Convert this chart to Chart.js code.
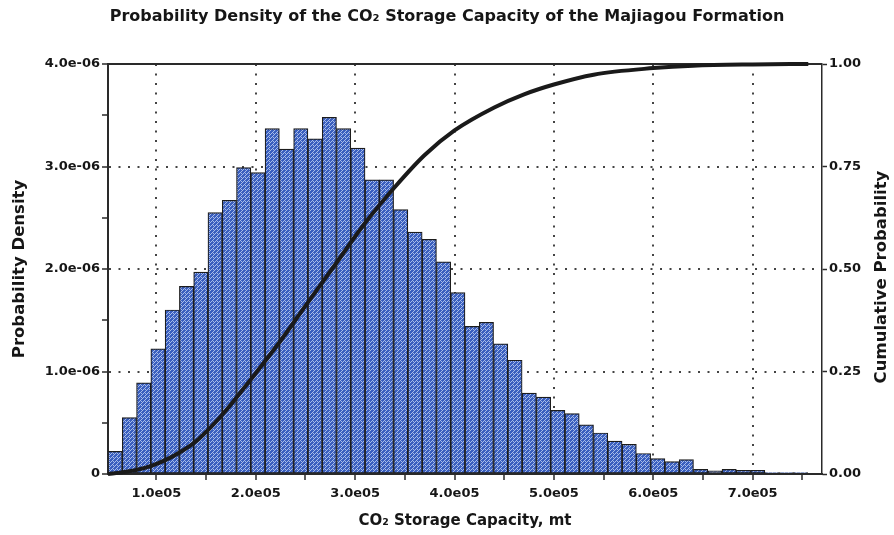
<!DOCTYPE html>
<html>
<head>
<meta charset="utf-8">
<script src="https://cdn.jsdelivr.net/npm/chart.js"></script>
<style>
  html, body { margin: 0; padding: 0; background: #fff; }
  #wrap { width: 894px; height: 535px; position: relative; }
</style>
</head>
<body>
<div id="wrap"><canvas id="chart"></canvas></div>
<script>
// histogram bins (bin centres, mt) and density values
const binCenters = [
  58485, 72855, 87225, 101595, 115965, 130335, 144705, 159075, 173445, 187815,
  202185, 216555, 230925, 245295, 259665, 274035, 288405, 302775, 317145, 331515,
  345885, 360255, 374625, 388995, 403365, 417735, 432105, 446475, 460845, 475215,
  489585, 503955, 518325, 532695, 547065, 561435, 575805, 590175, 604545, 618915,
  633285, 647655, 662025, 676395, 690765, 705135, 719505, 733875, 748245, 762615
];
const density = [
  0.22e-6, 0.55e-6, 0.89e-6, 1.22e-6, 1.60e-6, 1.83e-6, 1.97e-6, 2.55e-6, 2.67e-6, 2.99e-6,
  2.94e-6, 3.37e-6, 3.17e-6, 3.37e-6, 3.27e-6, 3.48e-6, 3.37e-6, 3.18e-6, 2.87e-6, 2.87e-6,
  2.58e-6, 2.36e-6, 2.29e-6, 2.07e-6, 1.77e-6, 1.44e-6, 1.48e-6, 1.27e-6, 1.11e-6, 0.79e-6,
  0.75e-6, 0.62e-6, 0.59e-6, 0.48e-6, 0.40e-6, 0.32e-6, 0.29e-6, 0.20e-6, 0.15e-6, 0.12e-6,
  0.14e-6, 0.045e-6, 0.03e-6, 0.045e-6, 0.035e-6, 0.035e-6, 0.015e-6, 0.015e-6, 0.015e-6, 0
];

// cumulative curve
const cdfX = [51300, 65000, 80000, 95000, 110000, 125000, 140000, 155000, 170000, 185000,
  200000, 225000, 250000, 280000, 310000, 340000, 370000, 400000, 440000, 470000,
  500000, 540000, 600000, 640000, 700000, 756000];
const cdfY = [0, 0.004, 0.010, 0.020, 0.035, 0.055, 0.080, 0.115, 0.155, 0.200,
  0.246, 0.325, 0.410, 0.511, 0.612, 0.700, 0.778, 0.838, 0.894, 0.926,
  0.950, 0.974, 0.990, 0.996, 0.999, 1.000];

// axes
const xMin = 51300, xMax = 769800;
const xTicks = [100000, 150000, 200000, 250000, 300000, 350000, 400000,
  450000, 500000, 550000, 600000, 650000, 700000, 750000];
const xLabels = ['1.0e05', '', '2.0e05', '', '3.0e05', '', '4.0e05',
  '', '5.0e05', '', '6.0e05', '', '7.0e05', ''];
const yTicks = [0, 0.5e-6, 1e-6, 1.5e-6, 2e-6, 2.5e-6, 3e-6, 3.5e-6, 4e-6];
const yLabels = ['0', '', '1.0e-06', '', '2.0e-06', '', '3.0e-06', '', '4.0e-06'];
const y1Ticks = [0, 0.25, 0.5, 0.75, 1];
const y1Labels = ['0.00', '0.25', '0.50', '0.75', '1.00'];

const titleText = 'Probability Density of the CO\u2082 Storage Capacity of the Majiagou Formation';
const xTitle = 'CO\u2082 Storage Capacity, mt';
const yTitle = 'Probability Density';
const y1Title = 'Cumulative Probability';

const FONT = '"DejaVu Sans", "Liberation Sans", Arial, sans-serif';
const INK = '#161616';

// blue cross-hatch fill like the original
function hatch() {
  const c = document.createElement('canvas');
  c.width = 4; c.height = 4;
  const g = c.getContext('2d');
  g.fillStyle = '#3a5fbf';
  g.fillRect(0, 0, 4, 4);
  g.fillStyle = '#a8bce9';
  [[0, 0], [1, 1], [3, 1], [2, 2], [1, 3]].forEach(p => g.fillRect(p[0], p[1], 1, 1));
  return g.createPattern(c, 'repeat');
}

const setTicks = values => scale => { scale.ticks = values.map(v => ({ value: v })); };
const isLabelled = labels => c => labels[c.index] !== '';

const frame = {
  id: 'frame',
  beforeDatasetsDraw(chart) {
    const { ctx, chartArea: a } = chart;
    ctx.save();
    ctx.strokeStyle = '#2a2a2a';
    ctx.lineWidth = 2;
    ctx.beginPath();
    ctx.moveTo(a.left - 1, a.top);
    ctx.lineTo(a.right, a.top);
    ctx.stroke();
    ctx.restore();
  },
  afterDraw(chart) {
    const { ctx, chartArea: a } = chart;
    ctx.save();
    ctx.translate(882, (a.top + a.bottom) / 2 + 8);
    ctx.rotate(-Math.PI / 2);
    ctx.font = 'bold 16.5px ' + FONT;
    ctx.fillStyle = INK;
    ctx.textAlign = 'center';
    ctx.textBaseline = 'middle';
    ctx.fillText(y1Title, 0, 0);
    ctx.restore();
  }
};

new Chart(document.getElementById('chart'), {
  type: 'bar',
  data: {
    datasets: [
      {
        type: 'bar',
        data: binCenters.map((x, i) => ({ x: x, y: density[i] })),
        backgroundColor: hatch(),
        borderColor: '#1c1c1c',
        borderWidth: 1.2,
        borderSkipped: false,
        barPercentage: 1,
        categoryPercentage: 1,
        xAxisID: 'x',
        yAxisID: 'y',
        order: 2
      },
      {
        type: 'line',
        data: cdfX.map((x, i) => ({ x: x, y: cdfY[i] })),
        borderColor: '#1a1a1a',
        borderWidth: 4,
        pointRadius: 0,
        cubicInterpolationMode: 'monotone',
        fill: false,
        clip: false,
        xAxisID: 'x',
        yAxisID: 'y1',
        order: 1
      }
    ]
  },
  options: {
    responsive: true,
    maintainAspectRatio: false,
    animation: false,
    layout: { padding: 0 },
    plugins: {
      legend: { display: false },
      tooltip: { enabled: false },
      title: {
        display: true,
        text: titleText,
        color: INK,
        font: { family: FONT, size: 16, weight: 'bold' },
        padding: { top: 7, bottom: 37.8 }
      }
    },
    scales: {
      x: {
        type: 'linear',
        min: xMin,
        max: xMax,
        offset: false,
        afterBuildTicks: setTicks(xTicks),
        grid: {
          offset: false,
          color: '#444',
          lineWidth: c => isLabelled(xLabels)(c) ? 2 : 0,
          tickColor: '#2a2a2a',
          tickWidth: 1.5,
          tickLength: 6
        },
        border: { display: true, color: '#2a2a2a', width: 2, dash: [2, 7.5] },
        ticks: {
          autoSkip: false,
          maxRotation: 0,
          minRotation: 0,
          padding: 6,
          color: INK,
          font: { family: FONT, size: 13, weight: 'bold' },
          callback: (v, i) => xLabels[i]
        },
        title: {
          display: true,
          text: xTitle,
          color: INK,
          font: { family: FONT, size: 15, weight: 'bold' },
          padding: { top: 0, bottom: 5 }
        },
        afterFit: s => { s.height = 61; }
      },
      y: {
        type: 'linear',
        position: 'left',
        min: 0,
        max: yTicks[yTicks.length - 1],
        afterBuildTicks: setTicks(yTicks),
        grid: {
          color: '#444',
          lineWidth: c => isLabelled(yLabels)(c) ? 2 : 0,
          tickColor: '#2a2a2a',
          tickWidth: 1.5,
          tickLength: 6
        },
        border: { display: true, color: '#2a2a2a', width: 2, dash: [2, 7.5] },
        ticks: {
          autoSkip: false,
          padding: 2,
          color: INK,
          font: { family: FONT, size: 13, weight: 'bold' },
          callback: (v, i) => yLabels[i]
        },
        title: {
          display: true,
          text: yTitle,
          color: INK,
          font: { family: FONT, size: 16.5, weight: 'bold' },
          padding: { top: 10, bottom: 0 }
        },
        afterFit: s => { s.width = 108; }
      },
      y1: {
        type: 'linear',
        position: 'right',
        min: 0,
        max: 1,
        afterBuildTicks: setTicks(y1Ticks),
        grid: {
          drawOnChartArea: false,
          tickColor: '#2a2a2a',
          tickWidth: 1.5,
          tickLength: 5
        },
        border: { display: true, color: '#2a2a2a', width: 1.5 },
        ticks: {
          autoSkip: false,
          padding: 2,
          color: INK,
          font: { family: FONT, size: 13, weight: 'bold' },
          callback: (v, i) => y1Labels[i]
        },
        afterFit: s => { s.width = 72; }
      }
    }
  },
  plugins: [frame]
});
</script>
</body>
</html>
